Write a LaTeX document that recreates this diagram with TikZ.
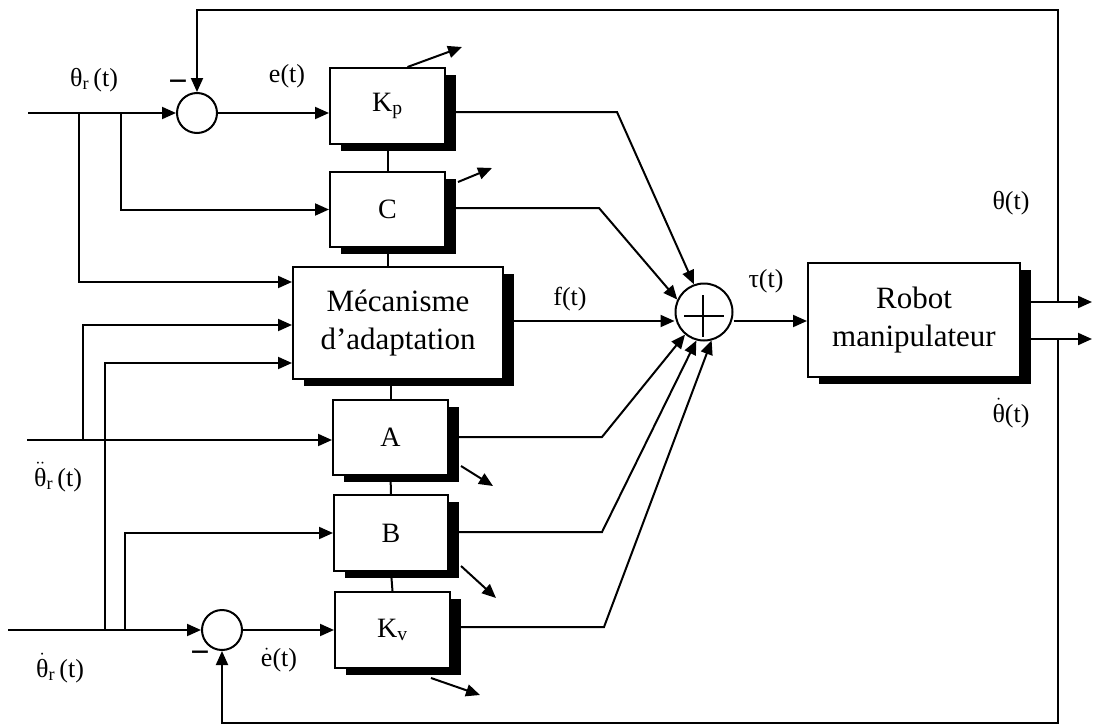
\documentclass[tikz,border=0pt]{standalone}
\usepackage{fontspec}
\setmainfont{Liberation Serif}
\usetikzlibrary{arrows.meta,shadows}
\begin{document}
\begin{tikzpicture}[x=1pt,y=-1pt,
  line width=2pt,
  arr/.style={-{Triangle[length=14pt,width=12pt]}},
  blk/.style={draw, fill=white, line width=2pt, inner sep=0pt,
    font=\fontsize{28}{34}\selectfont,
    drop shadow={shadow xshift=11pt, shadow yshift=-7pt, fill=black, opacity=1}},
  bigblk/.style={blk, align=center, font=\fontsize{31}{38}\selectfont},
  sumc/.style={draw, circle, inner sep=0pt, line width=2pt},
  lbl/.style={font=\fontsize{26}{30}\selectfont, inner sep=0pt, anchor=base},
  minus/.style={font=\fontsize{34}{34}\selectfont\bfseries, inner sep=0pt}]
\useasboundingbox (0,0) rectangle (1093,728);

% blocks
\node[blk, minimum width=115pt, minimum height=76pt] (Kp) at (387.5,106) {K\textsubscript{p}};
\node[blk, minimum width=115pt, minimum height=75pt] (C) at (387.5,209.5) {C};
\node[bigblk, minimum width=210pt, minimum height=112pt] (mec) at (398,323) {Mécanisme\\d’adaptation};
\node[blk, minimum width=115pt, minimum height=75pt] (A) at (390.5,437.5) {A};
\node[blk, minimum width=114pt, minimum height=76pt] (B) at (391,533) {B};
\node[blk, minimum width=115pt, minimum height=76pt] (Kv) at (392.5,630) {K\textsubscript{v}};
\node[bigblk, minimum width=212pt, minimum height=114pt] (robot) at (914,320) {Robot\\manipulateur};

% summing junctions
\node[sumc, minimum size=40pt] (s1) at (197,113) {};
\node[sumc, minimum size=40pt] (s2) at (222,630) {};
\node[sumc, minimum size=57pt] (sum) at (704,312) {};
\draw ([xshift=-20pt,yshift=-4pt]sum.center) -- ([xshift=20pt,yshift=-4pt]sum.center);
\draw ([xshift=-1pt,yshift=17pt]sum.center) -- ([xshift=-1pt,yshift=-25pt]sum.center);

% vertical links between blocks
\draw (Kp.south) -- (C.north);
\draw (C.south) -- (C.south |- mec.north);
\draw (A.north |- mec.south) -- (A.north);
\draw (A.south) -- (B.north);
\draw (B.south) -- (Kv.north);

% coordinates
\coordinate (thr) at (28,113);
\coordinate (j1) at (79,113);
\coordinate (j2) at (121,113);
\coordinate (tdd) at (27,440);
\coordinate (k1) at (83,440);
\coordinate (td) at (8,630);
\coordinate (k2) at (105,630);
\coordinate (k3) at (125,630);
\coordinate (o1) at (1058,302);
\coordinate (o2) at (1058,339);
\coordinate (out1) at (1092,302);
\coordinate (out2) at (1092,339);
\coordinate (tr) at (1058,10);
\coordinate (br) at (1058,723);
\coordinate (kpb) at (617,112);
\coordinate (cb) at (599,208);
\coordinate (ab) at (602,437);
\coordinate (bb) at (602,532);
\coordinate (kvb) at (604,627);
\coordinate (kpadj) at (462,47);
\coordinate (cadj) at (492,168);
\coordinate (aadj) at (493,486);
\coordinate (badj) at (496,598);
\coordinate (kvadj) at (480,695);

% inputs theta_r
\draw[arr] (thr) -- (s1);
\draw[arr] (j1) |- (mec.west |- 0,282);
\draw[arr] (j2) |- (C.west);
\draw[arr] (s1) -- (Kp.west |- s1);

% input theta_r double dot
\draw[arr] (tdd) -- (A.west |- tdd);
\draw[arr] (k1) |- (mec.west |- 0,325);

% input theta_r dot
\draw[arr] (td) -- (s2);
\draw[arr] (k2) |- (mec.west |- 0,363);
\draw[arr] (k3) |- (B.west);
\draw[arr] (s2) -- (Kv.west);

% outputs to summing junction
\draw[arr] (Kp.east |- kpb) -- (kpb) -- (sum.110);
\draw[arr] (C.east |- cb) -- (cb) -- (sum.155);
\draw[arr] (mec.east |- 0,321) -- (sum.west |- 0,321);
\draw[arr] (A.east |- ab) -- (ab) -- (sum.230);
\draw[arr] (B.east |- bb) -- (bb) -- (sum.255);
\draw[arr] (Kv.east |- kvb) -- (kvb) -- (sum.285);
\draw[arr] (sum.east |- 0,321) -- (robot.west |- 0,321);

% robot outputs and feedback
\draw[arr] (robot.east |- o1) -- (out1);
\draw[arr] (robot.east |- o2) -- (out2);
\draw[arr] (o1) -- (tr) -| (s1.north);
\draw[arr] (o2) -- (br) -| (s2.south);

% adaptation arrows
\draw[arr] ([xshift=20pt]Kp.north) -- (kpadj);
\draw[arr] ([xshift=12pt,yshift=-11pt]C.north east) -- (cadj);
\draw[arr] ([xshift=12pt,yshift=10pt]A.south east) -- (aadj);
\draw[arr] ([xshift=12pt,yshift=6pt]B.south east) -- (badj);
\draw[arr] ([xshift=-20pt,yshift=-9pt]Kv.south east) -- (kvadj);

% minus signs
\node[minus] (m1) at (178,86) {−};
\node[minus] (m2) at (200,657) {−};

% labels
\node[lbl] (l1) at (94,86) {θ\textsubscript{r}\,(t)};
\node[lbl] (l2) at (287,82) {e(t)};
\node[lbl] (l3) at (570,305) {f(t)};
\node[lbl] (l4) at (766,287) {τ(t)};
\node[lbl] (l5) at (1011,209) {θ(t)};
\node[lbl] (l6) at (1011,422) {$\dot{\hbox{θ}}$(t)};
\node[lbl] (l7) at (58,486) {$\ddot{\hbox{θ}}$\textsubscript{r}\,(t)};
\node[lbl] (l8) at (60,677) {$\dot{\hbox{θ}}$\textsubscript{r}\,(t)};
\node[lbl] (l9) at (279,666) {$\dot{\hbox{e}}$(t)};
\end{tikzpicture}
\end{document}
